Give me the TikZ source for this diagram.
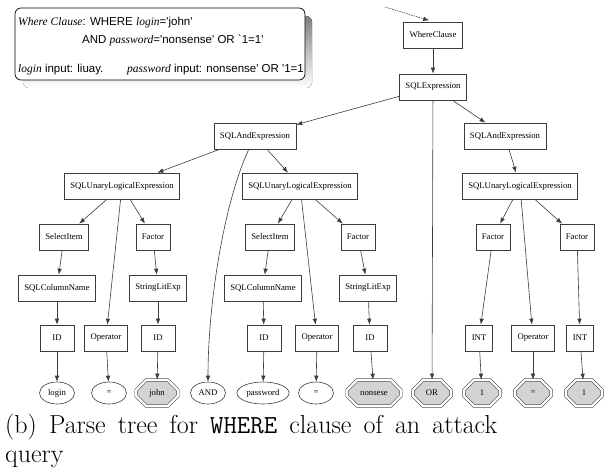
\documentclass[tikz,border=0pt]{standalone}
\usepackage{fontspec}
\usetikzlibrary{arrows.meta,shapes.geometric,shapes.misc}
\newfontfamily\dotfont{Liberation Serif}
\newfontfamily\notefont{Liberation Sans}
\definecolor{lit}{RGB}{211,211,211}
\definecolor{edgec}{RGB}{60,60,60}
\definecolor{shade}{RGB}{165,165,165}

\begin{document}
\begin{tikzpicture}[x=1pt, y=-1pt,
    tnode/.style={draw=edgec, fill=white, line width=0.6pt, minimum height=26pt, minimum width=24pt, inner xsep=6pt, font=\dotfont\fontsize{8.7}{10}\selectfont},
    idnode/.style={tnode, minimum width=34pt},
    leaf/.style={draw=edgec, ellipse, line width=0.6pt, minimum width=35pt, minimum height=22pt, inner xsep=2pt, inner ysep=3pt, font=\dotfont\fontsize{8.7}{10}\selectfont},
    litleaf/.style={draw=edgec, chamfered rectangle, chamfered rectangle xsep=5pt, chamfered rectangle ysep=5pt, double, double distance=2.2pt, fill=lit, line width=0.6pt, minimum width=36pt, minimum height=26pt, inner xsep=8pt, inner ysep=4pt, font=\dotfont\fontsize{8.7}{10}\selectfont},
    arr/.style={-{Latex[length=6pt,width=4.5pt]}, line width=0.6pt, edgec},
    darr/.style={arr, dash pattern=on 1.5pt off 1pt},
    notetext/.style={anchor=base west, inner sep=0pt, font=\notefont\fontsize{11.5}{13}\selectfont},
]
\useasboundingbox (0,0) rectangle (605,470);

% Note box
\fill[shade, rounded corners=6pt] (23,16) rectangle (312,88);
\node[draw=black, fill=white, line width=0.7pt, rounded corners=6pt, minimum width=290pt, minimum height=72pt] (note) at (160,44) {};
\node[notetext] (l1) at (18,26) {{\dotfont\itshape Where Clause}: WHERE {\dotfont\itshape login}=\textquotesingle john\textquotesingle};
\node[notetext] (l2) at (82,44) {AND {\dotfont\itshape password}=\textquotesingle nonsense\textquotesingle{} OR \textasciigrave 1=1\textquotesingle};
\node[notetext] (l3) at (18,73) {{\dotfont\itshape login} input: liuay.};
\node[notetext] (l4) at (127,73) {{\dotfont\itshape password} input: nonsense\textquotesingle{} OR \textquotesingle 1=1};

% Tree
\coordinate (entry) at (385,7);
\node[tnode] (wc) at (433,35) {WhereClause};
\node[tnode] (expr) at (433,87) {SQLExpression};
\node[tnode] (andL) at (255,136) {SQLAndExpression};
\node[tnode] (andR) at (505,136) {SQLAndExpression};
\node[tnode] (uL) at (122,186) {SQLUnaryLogicalExpression};
\node[tnode] (uM) at (300,186) {SQLUnaryLogicalExpression};
\node[tnode] (uR) at (520,186) {SQLUnaryLogicalExpression};
\node[tnode] (selL) at (64,237) {SelectItem};
\node[tnode] (facL) at (153,237) {Factor};
\node[tnode] (selM) at (270,237) {SelectItem};
\node[tnode] (facM) at (358,237) {Factor};
\node[tnode] (facR1) at (493,237) {Factor};
\node[tnode] (facR2) at (577,237) {Factor};
\node[tnode] (colL) at (57,288) {SQLColumnName};
\node[tnode] (strL) at (158,288) {StringLitExp};
\node[tnode] (colM) at (263,288) {SQLColumnName};
\node[tnode] (strM) at (368,288) {StringLitExp};
\node[idnode] (idL) at (57,338) {ID};
\node[tnode] (opL) at (106,338) {Operator};
\node[idnode] (idJ) at (158,338) {ID};
\node[idnode] (idP) at (264,338) {ID};
\node[tnode] (opM) at (317,338) {Operator};
\node[idnode] (idN) at (370,338) {ID};
\node[tnode] (int1) at (479,338) {INT};
\node[tnode] (opR) at (533,338) {Operator};
\node[tnode] (int2) at (580,338) {INT};

% Leaves
\node[leaf] (login) at (57,393) {login};
\node[leaf] (eqL) at (109,393) {=};
\node[litleaf] (john) at (157,393) {john};
\node[leaf] (andW) at (208,393) {AND};
\node[leaf] (pwd) at (263,393) {password};
\node[leaf] (eqM) at (316,393) {=};
\node[litleaf] (nons) at (374,393) {nonsese};
\node[litleaf] (orW) at (432,393) {OR};
\node[litleaf] (one1) at (482,393) {1};
\node[litleaf] (eqR) at (533,393) {=};
\node[litleaf] (one2) at (584,393) {1};

% Arrows
\draw[darr, shorten >=4pt] (entry) -- (wc.north);
\draw[arr] (wc) -- (expr);
\draw[arr] (expr) -- (andL);
\draw[arr] (expr) -- (orW);
\draw[arr] (expr) -- (andR);
\draw[arr] (andL) -- (uL);
\draw[arr] (andL) .. controls (225,200) and (208,300) .. (andW);
\draw[arr] (andL) -- (uM);
\draw[arr] (andR) -- (uR);
\draw[arr] (uL) -- (selL);
\draw[arr] (uL) -- (opL);
\draw[arr] (uL) -- (facL);
\draw[arr] (uM) -- (selM);
\draw[arr] (uM) -- (opM);
\draw[arr] (uM) -- (facM);
\draw[arr] (uR) -- (facR1);
\draw[arr] (uR) -- (opR);
\draw[arr] (uR) -- (facR2);
\draw[arr] (selL) -- (colL);
\draw[arr] (colL) -- (idL);
\draw[arr] (idL) -- (login);
\draw[arr] (facL) -- (strL);
\draw[arr] (strL) -- (idJ);
\draw[arr] (idJ) -- (john);
\draw[arr] (opL) -- (eqL);
\draw[arr] (selM) -- (colM);
\draw[arr] (colM) -- (idP);
\draw[arr] (idP) -- (pwd);
\draw[arr] (facM) -- (strM);
\draw[arr] (strM) -- (idN);
\draw[arr] (idN) -- (nons);
\draw[arr] (opM) -- (eqM);
\draw[arr] (facR1) -- (int1);
\draw[arr] (int1) -- (one1);
\draw[arr] (opR) -- (eqR);
\draw[arr] (facR2) -- (int2);
\draw[arr] (int2) -- (one2);

% Caption
\node[anchor=base west, inner sep=0pt, font=\fontsize{26}{29}\selectfont] (cap1) at (5,433) {\makebox[492pt][s]{(b) Parse tree for \texttt{WHERE} clause of an attack}};
\node[anchor=base west, inner sep=0pt, font=\fontsize{26}{29}\selectfont] (cap2) at (5,462) {query};
\end{tikzpicture}
\end{document}
